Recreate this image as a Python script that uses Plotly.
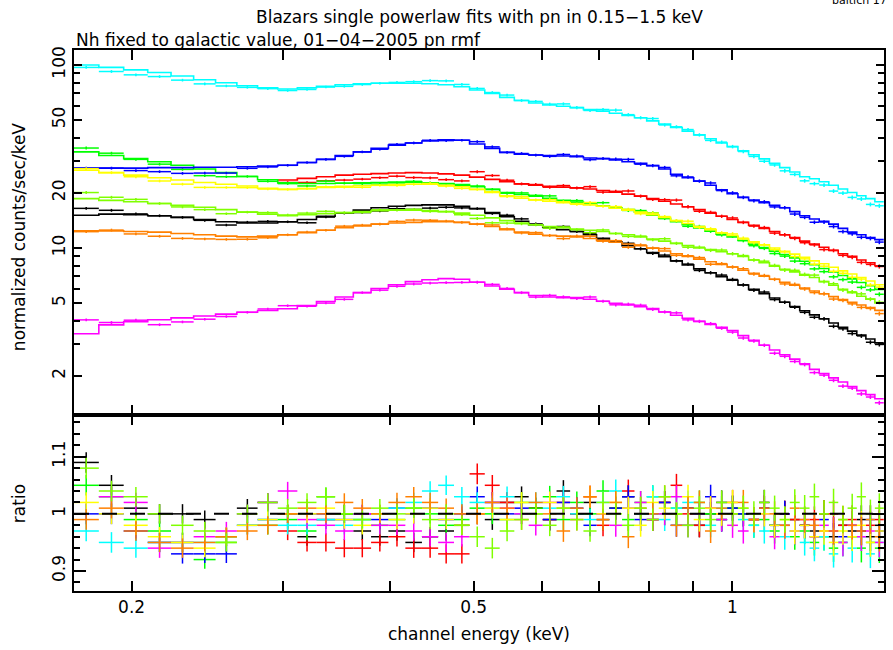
import numpy as np
import plotly.graph_objects as go

# ---------------- data ----------------
# channel grid: 56 bins from 0.171 to 1.5 keV (equal steps in sqrt(E))
E_MIN, E_MAX, N_BINS = 0.171, 1.5, 56

# model (folded powerlaw) values per bin, counts/sec/keV
model_black = [15.1, 15.3, 15.2, 15.0, 14.7, 14.3, 13.9, 13.7, 13.7, 13.9,
               14.3, 14.9, 15.5, 16.1, 16.6, 16.9, 17.1, 17.2, 17.2, 16.9,
               16.4, 15.6, 14.8, 14.0, 13.4, 13.0, 12.6, 12.3, 11.8, 11.3,
               10.8, 10.3, 9.9, 9.44, 8.96, 8.5, 8.08, 7.69, 7.32, 6.97,
               6.66, 6.28, 5.94, 5.63, 5.33, 5.05, 4.79, 4.54, 4.31, 4.10,
               3.89, 3.69, 3.51, 3.34, 3.18, 3.03]
model_red = [None, None, None, None, None, None, None, None, None, 23.5,
             24.0, 24.5, 25.0, 25.3, 25.5, 25.7, 25.8, 25.7, 25.4, 25.0,
             24.4, 23.7, 23.0, 22.4, 22.0, 21.7, 21.5, 21.3, 21.0, 20.6,
             20.2, 19.7, 19.2, 18.6, 18.0, 17.4, 16.8, 16.2, 15.5, 14.9,
             14.3, 13.8, 13.3, 12.8, 12.3, 11.8, 11.4, 10.9, 10.5, 10.1,
             9.7, 9.3, 9.0, 8.6, 8.3, 8.0]
model_green = [33.5, 32.0, 30.8, 29.6, 28.3, 27.0, 25.8, 24.6, 23.6, 22.7,
               22.5, 22.5, 22.6, 22.7, 22.8, 22.9, 22.9, 22.7, 22.5, 22.2,
               21.6, 20.9, 20.1, 19.6, 19.2, 18.7, 18.2, 17.8, 17.4, 17.0,
               16.6, 16.2, 15.7, 15.1, 14.5, 13.9, 13.4, 12.85, 12.35, 11.9,
               11.5, 10.98, 10.5, 10.05, 9.61, 9.21, 8.83, 8.46, 8.09, 7.73,
               7.40, 7.07, 6.78, 6.48, 6.21, 5.94]
model_blue = [27.3, 27.3, 27.3, 27.5, 27.5, 27.6, 27.6, 27.8, 28.0, 28.3,
              29.3, 30.5, 32.0, 33.5, 35.0, 36.5, 37.5, 38.4, 39.0, 38.8,
              37.0, 35.0, 33.3, 32.5, 32.2, 32.0, 31.8, 31.5, 31.0, 30.8,
              30.3, 29.6, 29.0, 28.2, 27.0, 25.3, 24.2, 23.2, 22.0, 20.8,
              19.8, 18.9, 18.3, 17.7, 17.1, 16.6, 15.8, 15.0, 14.4, 14.0,
              13.5, 12.8, 12.2, 11.8, 11.4, 11.1]
model_cyan = [100, 97, 94, 91, 87, 83, 80, 77, 75, 74,
              75, 76.5, 78, 79, 79.5, 79.5, 79.5, 79, 78, 76,
              73, 70, 66.5, 64, 62, 60.5, 59.5, 58.5, 57, 56,
              54.5, 53, 51.5, 49.5, 47.5, 45.5, 43.5, 41.5, 39.5, 37.5,
              35.8, 34, 32.3, 30.7, 29, 27.5, 26, 24.5, 23.9, 23.0,
              22.0, 21.0, 20.1, 19.3, 18.6, 17.9]
model_magenta = [3.4, 3.8, 3.95, 4.05, 4.15, 4.25, 4.35, 4.45, 4.55, 4.65,
                 4.85, 5.1, 5.4, 5.7, 6.0, 6.3, 6.55, 6.7, 6.8, 6.75,
                 6.5, 6.2, 5.95, 5.7, 5.5, 5.4, 5.35, 5.35, 5.24, 5.11,
                 4.99, 4.88, 4.77, 4.66, 4.47, 4.29, 4.13, 3.97, 3.82, 3.68,
                 3.54, 3.32, 3.13, 2.94, 2.77, 2.61, 2.47, 2.33, 2.17, 2.06,
                 1.95, 1.85, 1.75, 1.66, 1.58, 1.50]
model_yellow = [26.6, 25.8, 25.0, 24.2, 23.5, 22.8, 22.3, 21.8, 21.2, 20.9,
                21.1, 21.4, 21.7, 21.9, 22.0, 22.2, 22.3, 22.3, 22.0, 21.6,
                20.9, 20.1, 19.3, 18.7, 18.3, 18.0, 17.7, 17.5, 17.2, 16.9,
                16.5, 16.1, 15.7, 15.2, 14.7, 14.1, 13.6, 13.1, 12.6, 12.1,
                11.7, 11.2, 10.8, 10.4, 10.0, 9.6, 9.25, 8.9, 8.5, 8.2,
                7.85, 7.5, 7.2, 6.9, 6.6, 6.3]
model_orange = [12.4, 12.4, 12.3, 12.2, 12.0, 11.8, 11.6, 11.5, 11.6, 11.8,
                12.1, 12.5, 12.9, 13.2, 13.5, 13.7, 13.8, 13.9, 13.9, 13.8,
                13.5, 13.1, 12.6, 12.2, 11.9, 11.7, 11.6, 11.5, 11.26, 11.0,
                10.75, 10.51, 10.29, 9.98, 9.63, 9.30, 8.98, 8.69, 8.40, 8.13,
                7.87, 7.55, 7.27, 7.0, 6.74, 6.49, 6.26, 6.03, 5.82, 5.62,
                5.42, 5.22, 5.05, 4.88, 4.72, 4.56]
model_chartreuse = [18.6, 18.2, 17.9, 17.5, 17.1, 16.7, 16.2, 15.7, 15.3, 15.0,
                    15.2, 15.4, 15.6, 15.8, 16.0, 16.1, 16.1, 16.0, 15.8, 15.5,
                    15.1, 14.6, 14.1, 13.7, 13.4, 13.1, 12.9, 12.7, 12.5, 12.3,
                    12.0, 11.8, 11.5, 11.2, 10.9, 10.6, 10.3, 10.0, 9.8, 9.55,
                    9.3, 9.0, 8.6, 8.3, 7.95, 7.65, 7.4, 7.1, 6.9, 6.55,
                    6.25, 5.95, 5.7, 5.45, 5.25, 5.0]

# data / model ratio per bin
ratio_black = [1.09, 1.05, 1.01, 1.00, 1.00, 0.99, 0.96, 1.01, 1.02, 1.00,
               0.96, 0.99, 1.00, 0.97, 0.96, 0.97, 0.95, 0.96, 0.97, 0.98,
               1.00, 0.99, 1.02, 1.03, 1.01, 0.99, 1.04, 1.00, 1.02, 0.99,
               1.01, 1.03, 1.00, 0.99, 1.02, 1.00, 1.01, 0.98, 1.00, 1.02,
               1.01, 1.00, 0.99, 1.02, 0.98, 1.00, 0.99, 0.98, 0.97, 1.00,
               0.96, 0.98, 0.97, 0.99, 0.96, 0.98]
ratio_red = [None, None, None, None, None, None, None, None, None, 0.97,
             0.95, 0.95, 0.94, 0.94, 0.95, 0.96, 0.94, 0.94, 0.93, 0.93,
             1.07, 1.05, 1.02, 1.00, 1.01, 0.99, 1.02, 1.00, 1.03, 0.98,
             1.01, 1.04, 1.00, 0.99, 1.02, 1.05, 1.00, 0.98, 1.01, 1.00,
             1.02, 1.00, 0.99, 1.01, 0.98, 1.00, 0.99, 0.98, 0.99, 0.97,
             1.00, 0.98, 0.99, 0.97, 0.98, 0.99]
ratio_green = [1.05, 1.03, 0.99, 0.97, 0.95, 0.92, 0.95, 1.00, 0.98, 0.99,
               0.97, 1.03, 1.00, 0.99, 0.98, 0.99, 1.01, 1.00, 0.98, 0.99,
               1.01, 1.00, 0.99, 1.02, 1.01, 1.03, 0.99, 1.02, 1.00, 1.04,
               1.01, 0.99, 1.02, 1.03, 1.00, 1.01, 0.98, 1.02, 1.00, 0.99,
               1.01, 1.00, 0.98, 0.99, 0.97, 0.98, 0.96, 0.97, 0.95, 0.96,
               0.94, 0.95, 0.96, 0.94, 0.95, 0.94]
ratio_blue = [1.00, 1.00, 0.97, 0.95, 0.93, 0.93, 0.93, 0.98, 0.99, 1.00,
              1.00, 1.00, 0.99, 1.00, 0.99, 1.01, 1.00, 1.01, 0.99, 1.00,
              1.03, 1.02, 1.00, 1.01, 1.00, 0.99, 1.02, 1.01, 0.98, 1.00,
              1.01, 1.03, 0.99, 1.00, 1.02, 0.98, 1.01, 1.00, 1.03, 0.99,
              1.01, 1.00, 0.99, 1.01, 0.98, 1.00, 0.97, 0.98, 0.96, 0.99,
              0.97, 0.96, 0.98, 0.97, 0.99, 0.97]
ratio_cyan = [0.97, 0.95, 0.94, 0.95, 0.95, 0.95, 0.96, 0.98, 0.99, 0.98,
              0.98, 0.99, 0.98, 0.99, 1.00, 1.01, 1.02, 1.04, 1.05, 1.03,
              1.02, 1.01, 1.03, 1.00, 1.02, 1.01, 1.03, 1.00, 0.99, 1.02,
              1.04, 1.01, 1.00, 1.03, 0.99, 1.01, 1.02, 1.00, 0.98, 1.01,
              1.00, 0.99, 0.98, 0.97, 0.98, 0.96, 0.97, 0.95, 0.94, 0.96,
              0.93, 0.95, 0.94, 0.96, 0.93, 0.95]
ratio_magenta = [1.19, 1.03, 1.02, 0.94, 0.95, 0.96, 0.97, 1.00, 1.02, 1.04,
                 0.99, 0.98, 0.97, 1.00, 0.98, 0.98, 0.97, 0.96, 0.95, 0.96,
                 1.00, 1.02, 1.01, 1.00, 0.98, 1.02, 1.01, 0.99, 1.03, 1.00,
                 0.98, 1.01, 1.02, 0.99, 1.00, 1.03, 0.98, 1.00, 1.01, 0.99,
                 0.98, 0.97, 0.99, 1.00, 0.96, 0.98, 0.97, 0.99, 0.96, 0.98,
                 0.97, 0.95, 0.98, 0.96, 0.97, 0.95]
ratio_yellow = [1.02, 1.00, 0.98, 0.96, 0.95, 0.94, 0.96, 0.98, 0.99, 1.00,
                1.00, 1.01, 0.99, 0.98, 1.00, 0.99, 1.00, 1.01, 0.99, 0.98,
                1.00, 1.01, 0.99, 1.02, 1.00, 1.02, 1.01, 0.99, 1.03, 1.00,
                1.02, 1.01, 0.98, 1.02, 1.01, 1.00, 1.03, 0.99, 1.01, 1.00,
                1.02, 1.01, 0.99, 1.00, 0.98, 0.99, 0.97, 0.98, 0.96, 0.97,
                0.95, 0.97, 0.96, 0.98, 0.95, 0.97]
ratio_orange = [0.99, 1.01, 0.97, 0.95, 0.94, 0.95, 0.96, 0.97, 0.98, 1.00,
                1.01, 1.00, 1.02, 1.01, 1.00, 1.02, 1.03, 1.02, 1.01, 1.00,
                1.00, 1.02, 1.01, 0.99, 1.02, 1.00, 0.97, 1.01, 1.03, 0.99,
                1.02, 0.96, 1.01, 1.00, 1.03, 0.98, 1.01, 1.02, 0.97, 1.01,
                1.00, 1.02, 0.99, 1.01, 1.00, 0.98, 1.01, 0.99, 0.98, 1.00,
                0.97, 0.99, 0.98, 0.97, 0.99, 0.96]
ratio_chartreuse = [1.08, 1.04, 1.03, 1.00, 0.98, 0.97, 0.95, 1.00, 1.02, 1.01,
                    1.02, 1.03, 1.00, 0.99, 1.01, 1.00, 1.01, 0.99, 1.00, 0.98,
                    0.96, 0.94, 0.97, 0.99, 1.00, 0.98, 1.01, 0.99, 0.97, 1.02,
                    1.00, 0.98, 1.01, 0.99, 1.03, 1.00, 0.98, 1.01, 0.99, 1.02,
                    1.00, 1.01, 1.00, 1.02, 1.01, 0.99, 1.02, 1.01, 1.03, 1.00,
                    1.02, 0.99, 1.01, 1.03, 1.00, 1.01]

# fractional 1-sigma errors per bin
ratio_err = [0.018, 0.018, 0.017, 0.017, 0.017, 0.016, 0.016, 0.016, 0.016, 0.016,
             0.016, 0.016, 0.016, 0.016, 0.016, 0.017, 0.017, 0.017, 0.017, 0.017,
             0.018, 0.018, 0.018, 0.018, 0.018, 0.019, 0.019, 0.019, 0.019, 0.019,
             0.020, 0.020, 0.020, 0.020, 0.020, 0.020, 0.021, 0.021, 0.021, 0.021,
             0.022, 0.022, 0.022, 0.022, 0.022, 0.023, 0.023, 0.023, 0.023, 0.024,
             0.024, 0.024, 0.025, 0.025, 0.025, 0.026]

series = [
    ("black", "#000000", model_black, ratio_black),
    ("red", "#ff0000", model_red, ratio_red),
    ("green", "#00ff00", model_green, ratio_green),
    ("blue", "#0000ff", model_blue, ratio_blue),
    ("cyan", "#00ffff", model_cyan, ratio_cyan),
    ("magenta", "#ff00ff", model_magenta, ratio_magenta),
    ("yellow", "#ffff00", model_yellow, ratio_yellow),
    ("orange", "#ff8000", model_orange, ratio_orange),
    ("chartreuse", "#80ff00", model_chartreuse, ratio_chartreuse),
]

# ---------------- figure ----------------
edges = np.linspace(np.sqrt(E_MIN), np.sqrt(E_MAX), N_BINS + 1) ** 2
lo, hi = edges[:-1], edges[1:]
cen = 0.5 * (lo + hi)
err = np.array(ratio_err)

def arr(v):
    return np.array([np.nan if x is None else x for x in v], dtype=float)

fig = go.Figure()
for name, col, mod, rat in series:
    m = arr(mod)
    r = arr(rat)
    d = m * r
    # model step line (top panel)
    fig.add_trace(go.Scatter(
        x=np.append(lo, hi[-1]), y=np.append(m, m[-1]), mode="lines",
        line=dict(color=col, width=1.6, shape="hv"),
        xaxis="x2", yaxis="y", showlegend=False, hoverinfo="skip"))
    # data crosses (top panel)
    fig.add_trace(go.Scatter(
        x=cen, y=d, mode="markers", marker=dict(size=1, color=col),
        error_x=dict(type="data", symmetric=False, array=hi - cen,
                     arrayminus=cen - lo, width=0, thickness=1.5, color=col),
        error_y=dict(type="data", array=d * err, width=0, thickness=1.5, color=col),
        xaxis="x2", yaxis="y", showlegend=False, name=name))
    # ratio crosses (bottom panel)
    fig.add_trace(go.Scatter(
        x=cen, y=r, mode="markers", marker=dict(size=1, color=col),
        error_x=dict(type="data", symmetric=False, array=hi - cen,
                     arrayminus=cen - lo, width=0, thickness=1.5, color=col),
        error_y=dict(type="data", array=err, width=0, thickness=1.5, color=col),
        xaxis="x", yaxis="y2", showlegend=False, name=name))

FONT = "DejaVu Sans"
xrange = [np.log10(0.1714), np.log10(1.501)]
xmajor = [0.2, 0.5, 1.0]
xminor = [0.3, 0.4, 0.6, 0.7, 0.8, 0.9]
axis_common = dict(showline=True, linecolor="black", mirror="ticks",
                   ticks="inside", tickcolor="black", tickwidth=1.5,
                   showgrid=False, zeroline=False,
                   tickfont=dict(family=FONT, size=17, color="black"))

fig.update_layout(
    width=893, height=650,
    margin=dict(l=74, r=7, t=50, b=59),
    paper_bgcolor="white", plot_bgcolor="white",
    xaxis=dict(type="log", range=xrange, anchor="y2", domain=[0, 1], linewidth=1.5,
               tickvals=xmajor, ticktext=["0.2", "0.5", "1"], ticklen=10,
               minor=dict(tickvals=xminor, ticklen=10, ticks="inside",
                          tickcolor="black", tickwidth=1.5),
               **axis_common),
    xaxis2=dict(type="log", range=xrange, anchor="y", matches="x", linewidth=1.5,
                tickvals=xmajor, showticklabels=False, ticklen=10,
                minor=dict(tickvals=xminor, ticklen=10, ticks="inside",
                           tickcolor="black", tickwidth=1.5),
                **axis_common),
    yaxis=dict(type="log", range=[0.087, 2.082], domain=[0.3253, 1], anchor="x2",
               linewidth=2,
               tickvals=[2, 5, 10, 20, 50, 100], ticktext=["2", "5", "10", "20", "50", "100"],
               ticklen=8, tickangle=-90,
               minor=dict(tickvals=[3, 4, 6, 7, 8, 9, 30, 40, 60, 70, 80, 90],
                          ticklen=6, ticks="inside", tickcolor="black", tickwidth=1.5),
               **axis_common),
    yaxis2=dict(range=[0.865, 1.173], domain=[0, 0.3253], anchor="x", linewidth=2,
                tickvals=[0.9, 1.0, 1.1], ticktext=["0.9", "1", "1.1"],
                ticklen=12, tickangle=-90,
                minor=dict(tick0=0.9, dtick=0.02, ticklen=6, ticks="inside",
                           tickcolor="black", tickwidth=1.5),
                **axis_common),
    shapes=[dict(type="line", xref="x domain", x0=0, x1=1, yref="y2", y0=1, y1=1,
                 line=dict(color="black", width=2, dash="15px,13px"), layer="above")],
)

def px2paper_x(px):
    return (px - 74) / 812.0

def px2paper_y(py):
    return (591 - py) / 541.0

ann_font = dict(family=FONT, size=17, color="black")
fig.add_annotation(text="Blazars single powerlaw fits with pn in 0.15\u22121.5 keV",
                   xref="paper", yref="paper", x=px2paper_x(480), y=px2paper_y(17),
                   xanchor="center", yanchor="middle", showarrow=False, font=ann_font)
fig.add_annotation(text="Nh fixed to galactic value, 01\u221204\u22122005 pn rmf",
                   xref="paper", yref="paper", x=px2paper_x(74), y=px2paper_y(40),
                   xanchor="left", yanchor="middle", showarrow=False, font=ann_font)
fig.add_annotation(text="baltich 17", xref="paper", yref="paper",
                   x=px2paper_x(891), y=px2paper_y(1), xanchor="right", yanchor="middle",
                   showarrow=False, font=dict(family=FONT, size=11, color="black"))
fig.add_annotation(text="normalized counts/sec/keV", xref="paper", yref="paper",
                   x=px2paper_x(19), y=px2paper_y(237), textangle=-90,
                   xanchor="center", yanchor="middle", showarrow=False, font=ann_font)
fig.add_annotation(text="ratio", xref="paper", yref="paper",
                   x=px2paper_x(19), y=px2paper_y(504), textangle=-90,
                   xanchor="center", yanchor="middle", showarrow=False, font=ann_font)
fig.add_annotation(text="channel energy (keV)", xref="paper", yref="paper",
                   x=px2paper_x(480), y=px2paper_y(634),
                   xanchor="center", yanchor="middle", showarrow=False, font=ann_font)

fig.write_html("out.html", config={"displayModeBar": False},
               post_script="document.body.style.margin='0';document.body.style.overflow='hidden';")
